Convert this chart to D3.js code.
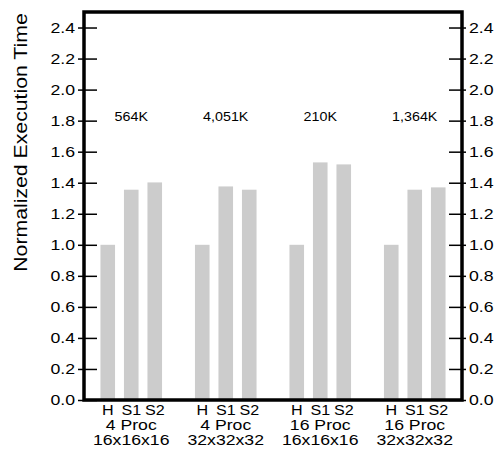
<!DOCTYPE html>
<html>
<head>
<meta charset="utf-8">
<script src="https://cdn.jsdelivr.net/npm/d3@7"></script>
<style>
  body { margin: 0; background: #fff; }
  svg text { font-family: "Liberation Sans", Arial, Helvetica, sans-serif; fill: #000; }
</style>
</head>
<body>
<div id="chart"></div>
<script>
// data
const groups = ["4 Proc|16x16x16", "4 Proc|32x32x32", "16 Proc|16x16x16", "16 Proc|32x32x32"];
const series = ["H", "S1", "S2"];
const hValues  = [1.0, 1.0, 1.0, 1.0];
const s1Values = [1.355, 1.376, 1.531, 1.355];
const s2Values = [1.402, 1.355, 1.518, 1.37];
const sizeLabels = ["564K", "4,051K", "210K", "1,364K"];
const yTicks = [0, 0.2, 0.4, 0.6, 0.8, 1.0, 1.2, 1.4, 1.6, 1.8, 2.0, 2.2, 2.4];

const width = 499, height = 451;
const margin = { top: 12, right: 37, bottom: 51, left: 84 };

const svg = d3.select('#chart')
    .append('svg')
    .attr('width', width)
    .attr('height', height);

const x = d3.scaleBand()
    .domain(groups)
    .range([margin.left, width - margin.right])
    .padding(0);

const sub = d3.scaleBand()
    .domain(series)
    .range([-35.25, 35.25])
    .paddingInner(0.38)
    .paddingOuter(0.19);

const y = d3.scaleLinear()
    .domain([0, 2.5])
    .range([height - margin.bottom, margin.top]);

// stretch text a bit wider, the original font runs wide
function stretch(sel, k) {
    sel.each(function () {
        const len = this.getComputedTextLength();
        d3.select(this)
            .attr('textLength', len * k)
            .attr('lengthAdjust', 'spacingAndGlyphs');
    });
}

// bars
const rows = groups.map((g, i) => ({
    group: g,
    values: [hValues[i], s1Values[i], s2Values[i]]
}));

svg.append('g')
    .selectAll('g')
    .data(rows)
    .enter()
    .append('g')
    .attr('transform', d => `translate(${x(d.group) + x.bandwidth() / 2},0)`)
    .selectAll('rect')
    .data(d => d.values.map((v, j) => ({ key: series[j], value: v })))
    .enter()
    .append('rect')
    .attr('x', d => sub(d.key))
    .attr('width', sub.bandwidth())
    .attr('y', d => y(d.value))
    .attr('height', d => y(0) - y(d.value))
    .attr('fill', '#cccccc');

// size labels above groups
svg.append('g')
    .selectAll('text')
    .data(sizeLabels)
    .enter()
    .append('text')
    .attr('x', (d, i) => x(groups[i]) + x.bandwidth() / 2)
    .attr('y', y(1.8))
    .attr('text-anchor', 'middle')
    .style('font-size', '13px')
    .text(d => d)
    .call(stretch, 1.1);

// left axis
const left = svg.append('g')
    .attr('transform', `translate(${margin.left},0)`)
    .call(d3.axisLeft(y).tickValues(yTicks).tickFormat(d3.format('.1f'))
        .tickSizeInner(6).tickSizeOuter(0).tickPadding(3));
left.select('.domain').remove();
left.selectAll('.tick line').attr('x1', 13).attr('stroke-width', 1.5);
left.selectAll('.tick text').style('font-size', '15px').attr('font-family', null);

// right axis
const right = svg.append('g')
    .attr('transform', `translate(${width - margin.right},0)`)
    .call(d3.axisRight(y).tickValues(yTicks).tickFormat(d3.format('.1f'))
        .tickSizeInner(4).tickSizeOuter(0).tickPadding(3));
right.select('.domain').remove();
right.selectAll('.tick line').attr('x1', -13).attr('stroke-width', 1.5);
right.selectAll('.tick text').style('font-size', '15px').attr('font-family', null);

svg.selectAll('.tick text').call(stretch, 1.18);

// bar name labels under each group
rows.forEach(r => {
    const ax = svg.append('g')
        .attr('class', 'bar-names')
        .attr('transform', `translate(${x(r.group) + x.bandwidth() / 2},${y(0)})`)
        .call(d3.axisBottom(sub).tickSize(0).tickPadding(4));
    ax.select('.domain').remove();
    ax.selectAll('text')
        .attr('font-family', null)
        .style('font-size', '14px')
        .attr('dy', '0.72em')
        .attr('y', 5)
        .call(stretch, 1.15);
});

// group labels, two lines
const glab = svg.append('g')
    .selectAll('text')
    .data(groups)
    .enter()
    .append('text')
    .attr('text-anchor', 'middle')
    .style('font-size', '14px');
glab.append('tspan')
    .attr('x', d => x(d) + x.bandwidth() / 2)
    .attr('y', y(0) + 30)
    .text(d => d.split('|')[0]);
glab.append('tspan')
    .attr('x', d => x(d) + x.bandwidth() / 2)
    .attr('y', y(0) + 45)
    .text(d => d.split('|')[1]);
glab.selectAll('tspan').call(stretch, 1.26);

// frame
svg.append('rect')
    .attr('x', margin.left)
    .attr('y', margin.top)
    .attr('width', width - margin.right - margin.left)
    .attr('height', y(0) - margin.top)
    .attr('fill', 'none')
    .attr('stroke', '#000')
    .attr('stroke-width', 3.5);

// y title
svg.append('text')
    .attr('transform', `translate(27,${(13 + 272) / 2}) rotate(-90)`)
    .attr('text-anchor', 'middle')
    .style('font-size', '18px')
    .text('Normalized Execution Time')
    .call(stretch, 1.18);
</script>
</body>
</html>
